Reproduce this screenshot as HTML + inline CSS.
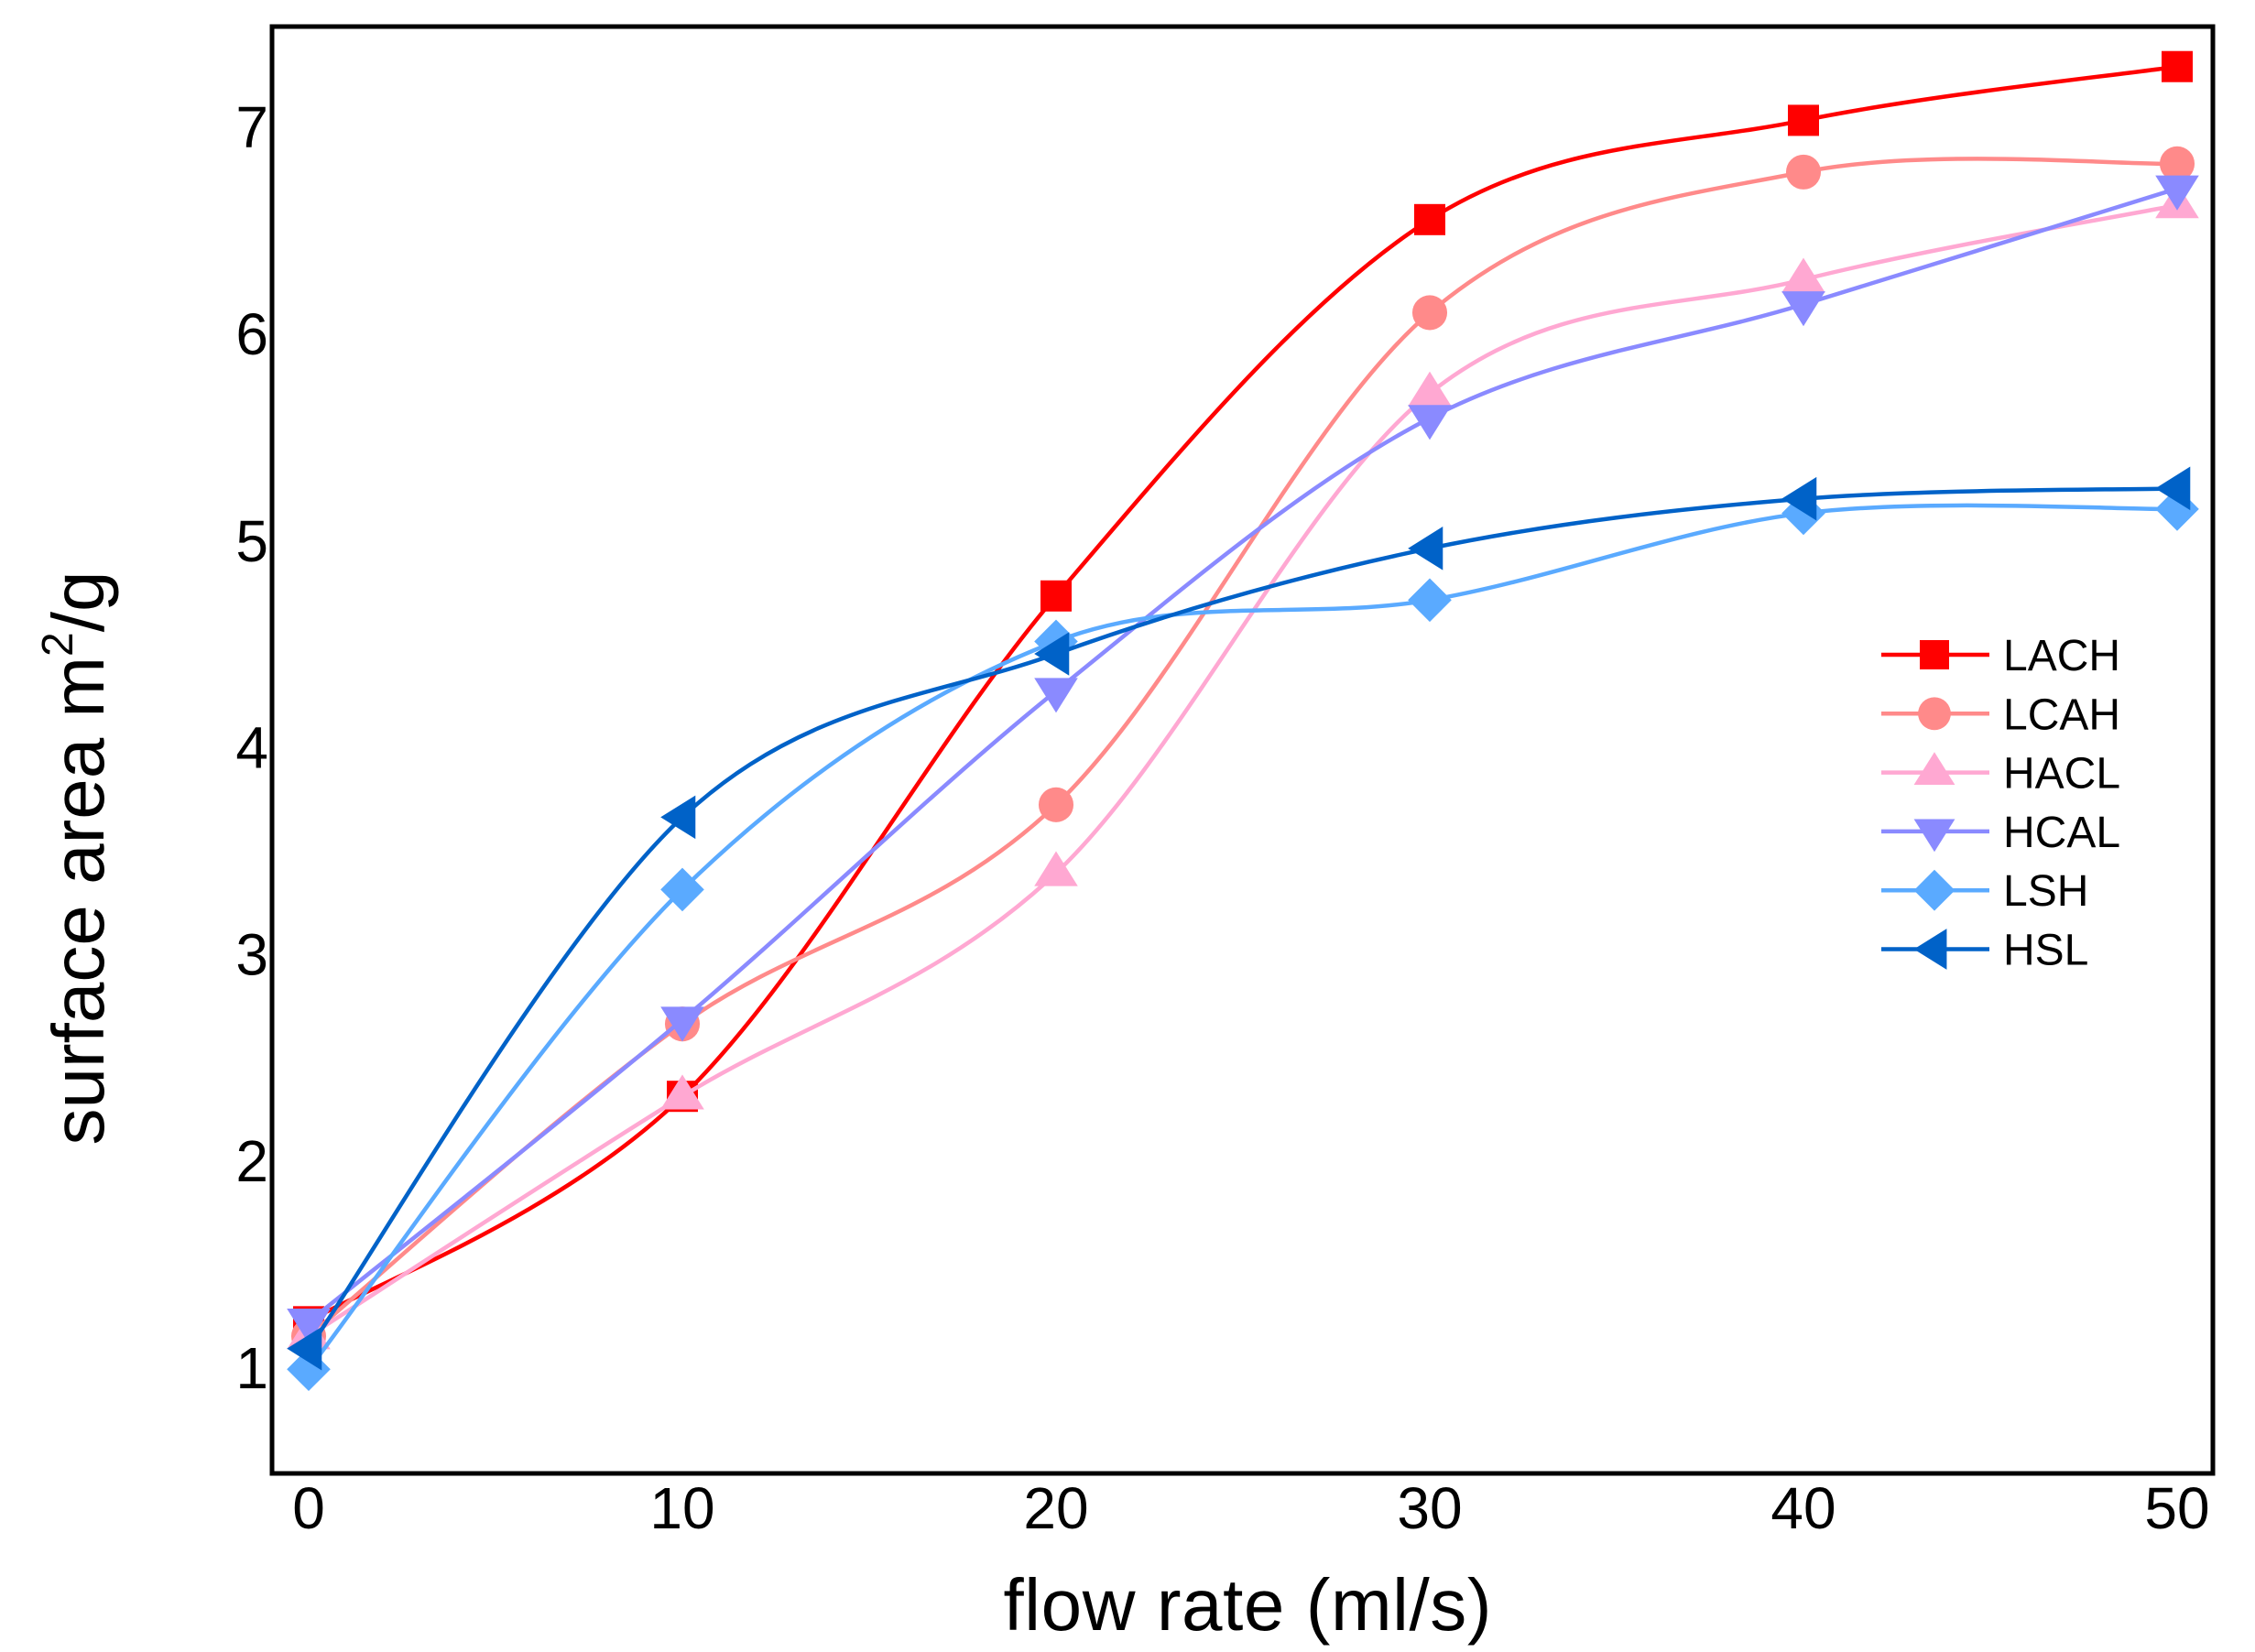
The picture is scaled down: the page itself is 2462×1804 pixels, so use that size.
<!DOCTYPE html>
<html><head><meta charset="utf-8"><style>
html,body{margin:0;padding:0;background:#fff;}
svg{display:block;font-family:"Liberation Sans",Arial,sans-serif;}
</style></head><body>
<svg id="chart" width="2462" height="1804" viewBox="0 0 2462 1804" xmlns="http://www.w3.org/2000/svg">
<rect x="0" y="0" width="2462" height="1804" fill="#fff"/>
<g id="series-layer"></g>
<rect x="297" y="29" width="2119" height="1580" fill="none" stroke="#000" stroke-width="5"/>
<g id="ticks" font-size="64" fill="#000"></g>
<text x="1362" y="1780" font-size="80" text-anchor="middle" textLength="533">flow rate (ml/s)</text>
<text transform="translate(113,937) rotate(-90)" font-size="80" text-anchor="middle">surface area m<tspan font-size="48" dy="-34">2</tspan><tspan dy="34">/g</tspan></text>
<g id="legend"></g>
</svg>
<script>
const xValues = [0, 10, 20, 30, 40, 50];
const seriesNames = ["LACH", "LCAH", "HACL", "HCAL", "LSH", "HSL"];
const lachValues = [1.22, 2.31, 4.73, 6.55, 7.03, 7.29];
const lcahValues = [1.15, 2.66, 3.72, 6.10, 6.78, 6.82];
const haclValues = [1.15, 2.31, 3.39, 5.71, 6.26, 6.62];
const hcalValues = [1.22, 2.68, 4.27, 5.59, 6.14, 6.70];
const lshValues = [0.99, 3.31, 4.51, 4.71, 5.13, 5.15];
const hslValues = [1.09, 3.66, 4.45, 4.96, 5.20, 5.25];
const xTicks = [0, 10, 20, 30, 40, 50];
const yTicks = [1, 2, 3, 4, 5, 6, 7];

const NS = "http://www.w3.org/2000/svg";
function xs(v){ return 337 + (v - 0) * (2377 - 337) / 50; }
function ys(v){ return 1493 - (v - 1) * 225.8; }

const styles = [
  {c:"#ff0000", m:"square"},
  {c:"#ff8a8a", m:"circle"},
  {c:"#ffa8d2", m:"up"},
  {c:"#8a8aff", m:"down"},
  {c:"#5aaaff", m:"diamond"},
  {c:"#0062c8", m:"left"}
];
const allValues = [lachValues, lcahValues, haclValues, hcalValues, lshValues, hslValues];

function marker(kind, x, y, color, s){
  let el;
  if(kind==="square"){ el=document.createElementNS(NS,"rect"); el.setAttribute("x",x-s*0.5); el.setAttribute("y",y-s*0.5); el.setAttribute("width",s); el.setAttribute("height",s); }
  else if(kind==="circle"){ el=document.createElementNS(NS,"circle"); el.setAttribute("cx",x); el.setAttribute("cy",y); el.setAttribute("r",s*0.56); }
  else { el=document.createElementNS(NS,"polygon"); let h=s*0.7, pts;
    if(kind==="up") pts=[[x,y-h],[x+h,y+h*0.6],[x-h,y+h*0.6]];
    else if(kind==="down") pts=[[x,y+h],[x+h,y-h*0.6],[x-h,y-h*0.6]];
    else if(kind==="diamond") pts=[[x,y-h],[x+h,y],[x,y+h],[x-h,y]];
    else pts=[[x-h,y],[x+h*0.6,y-h],[x+h*0.6,y+h]];
    el.setAttribute("points",pts.map(p=>p.join(",")).join(" ")); }
  el.setAttribute("fill",color);
  return el;
}

function splinePath(pts){
  let d="M"+pts[0][0]+","+pts[0][1];
  for(let i=0;i<pts.length-1;i++){
    const p0=pts[Math.max(0,i-1)], p1=pts[i], p2=pts[i+1], p3=pts[Math.min(pts.length-1,i+2)];
    const c1=[p1[0]+(p2[0]-p0[0])/6, p1[1]+(p2[1]-p0[1])/6];
    const c2=[p2[0]-(p3[0]-p1[0])/6, p2[1]-(p3[1]-p1[1])/6];
    d+=" C"+c1.join(",")+" "+c2.join(",")+" "+p2.join(",");
  }
  return d;
}

const layer=document.getElementById("series-layer");
allValues.forEach((vals,si)=>{
  const g=document.createElementNS(NS,"g");
  
  
  const pts=vals.map((v,i)=>[xs(xValues[i]),ys(v)]);
  const path=document.createElementNS(NS,"path");
  path.setAttribute("d",splinePath(pts));
  path.setAttribute("fill","none");
  path.setAttribute("stroke",styles[si].c);
  path.setAttribute("stroke-width","4.5");
  
  
  g.appendChild(path);
  pts.forEach((p,i)=>{
    const m=marker(styles[si].m,p[0],p[1],styles[si].c,34);
    
    
    g.appendChild(m);
  });
  layer.appendChild(g);
});

const ticks=document.getElementById("ticks");
xTicks.forEach(t=>{
  const e=document.createElementNS(NS,"text");
  e.setAttribute("x",xs(t)); e.setAttribute("y",1669); e.setAttribute("text-anchor","middle");
  e.textContent=t;
  
  
  ticks.appendChild(e);
});
yTicks.forEach(t=>{
  const e=document.createElementNS(NS,"text");
  e.setAttribute("x",293); e.setAttribute("y",ys(t)+23); e.setAttribute("text-anchor","end");
  e.textContent=t;
  
  
  ticks.appendChild(e);
});

const legend=document.getElementById("legend");
seriesNames.forEach((n,i)=>{
  const y=715+i*64.3;
  const g=document.createElementNS(NS,"g");
  
  
  const l=document.createElementNS(NS,"line");
  l.setAttribute("x1",2054); l.setAttribute("x2",2172); l.setAttribute("y1",y); l.setAttribute("y2",y);
  l.setAttribute("stroke",styles[i].c); l.setAttribute("stroke-width","4.5");
  g.appendChild(l);
  g.appendChild(marker(styles[i].m,2112,y,styles[i].c,32));
  const t=document.createElementNS(NS,"text");
  t.setAttribute("x",2187); t.setAttribute("y",y+17); t.setAttribute("font-size","48");
  t.textContent=n;
  g.appendChild(t);
  legend.appendChild(g);
});
</script>
</body></html>
